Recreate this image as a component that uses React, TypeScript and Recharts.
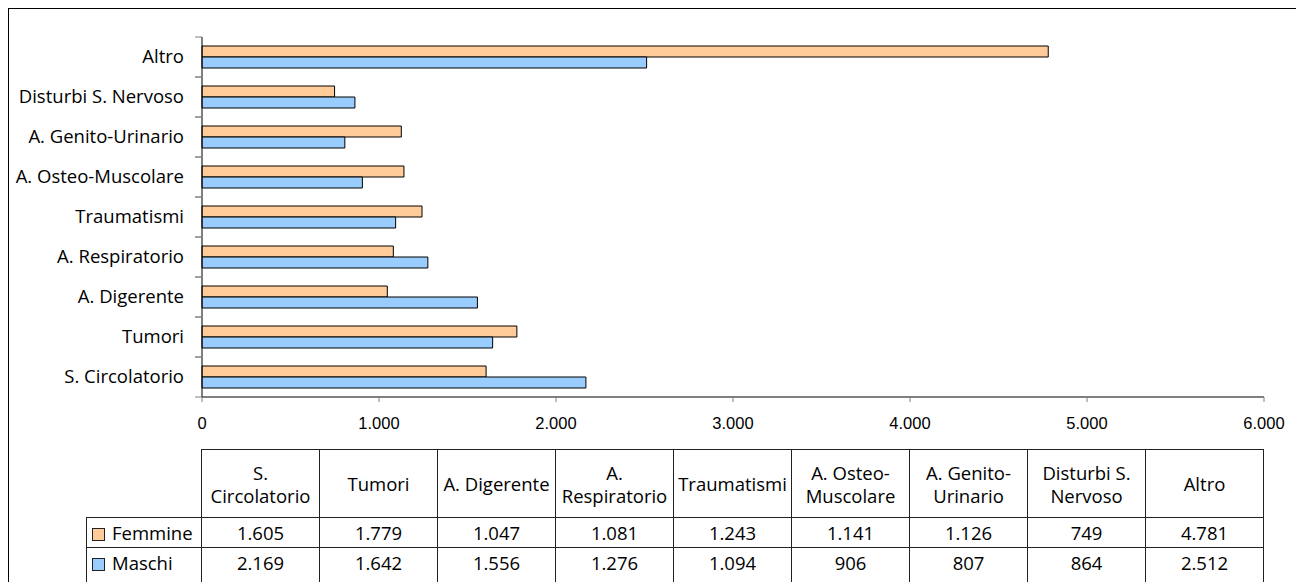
import React from "react";
import { BarChart, Bar, XAxis, YAxis } from "recharts";

const categories = [
  "S. Circolatorio",
  "Tumori",
  "A. Digerente",
  "A. Respiratorio",
  "Traumatismi",
  "A. Osteo-Muscolare",
  "A. Genito-Urinario",
  "Disturbi S. Nervoso",
  "Altro",
];

// header labels in the data table, wrapped like the original
const tableHeaders = [
  "S.\nCircolatorio",
  "Tumori",
  "A. Digerente",
  "A.\nRespiratorio",
  "Traumatismi",
  "A. Osteo-\nMuscolare",
  "A. Genito-\nUrinario",
  "Disturbi S.\nNervoso",
  "Altro",
];

const femmine = [1605, 1779, 1047, 1081, 1243, 1141, 1126, 749, 4781];
const maschi = [2169, 1642, 1556, 1276, 1094, 906, 807, 864, 2512];

const xTicks = [0, 1000, 2000, 3000, 4000, 5000, 6000];

const FEMMINE_COLOR = "#FFCC99";
const MASCHI_COLOR = "#99CCFF";

const data = categories.map((name, i) => ({
  name,
  femmine: femmine[i],
  maschi: maschi[i],
}));

const fmt = (v: number) => String(v).replace(/\B(?=(\d{3})+(?!\d))/g, ".");

function CategoryTick(props: any) {
  const { x, y, payload } = props;
  const half = typeof payload?.offset === "number" && payload.offset > 0 ? payload.offset : 20;
  return (
    <g>
      <line x1={x - 7} x2={x} y1={y - half} y2={y - half} stroke="#808080" />
      <line x1={x - 7} x2={x} y1={y + half} y2={y + half} stroke="#808080" />
      <text
        x={x - 18}
        y={y}
        dy="0.3em"
        textAnchor="end"
        fill="#000"
        fontFamily="'Open Sans', sans-serif"
        fontSize={18.5}
      >
        {payload.value}
      </text>
    </g>
  );
}

const cell: React.CSSProperties = {
  border: "1px solid #222",
  textAlign: "center",
  verticalAlign: "middle",
  padding: 0,
};

// last row runs past the bottom of the frame, like the original
const lastCell: React.CSSProperties = {
  ...cell,
  verticalAlign: "top",
  lineHeight: "29px",
  borderBottom: "none",
};

export default function App() {
  const swatch = (color: string) => (
    <span
      style={{
        display: "inline-block",
        width: 11,
        height: 11,
        background: color,
        border: "1px solid #222",
        marginRight: 7,
        verticalAlign: "-1px",
      }}
    />
  );

  return (
    <div
      style={{
        position: "relative",
        width: 1296,
        height: 574,
        boxSizing: "border-box",
        borderLeft: "1px solid #000",
        borderTop: "1px solid #000",
        overflow: "hidden",
        background: "#fff",
      }}
    >
      <BarChart
        width={1295}
        height={440}
        data={data}
        layout="vertical"
        margin={{ top: 28, right: 40, bottom: 0, left: 0 }}
        barSize={11}
        barGap={0}
      >
        <XAxis
          type="number"
          domain={[0, 6000]}
          ticks={xTicks}
          interval={0}
          tickFormatter={fmt}
          height={52}
          tickSize={5}
          tickMargin={15}
          axisLine={{ stroke: "#000" }}
          tickLine={{ stroke: "#808080" }}
          tick={{ fill: "#000", fontSize: 16.5, fontFamily: "'Liberation Sans', Arial, sans-serif" }}
        />
        <YAxis
          type="category"
          dataKey="name"
          reversed
          width={193}
          interval={0}
          tickSize={0}
          tickMargin={0}
          tickLine={false}
          axisLine={{ stroke: "#000" }}
          tick={<CategoryTick />}
        />
        <Bar dataKey="femmine" fill={FEMMINE_COLOR} stroke="#000" strokeWidth={1} isAnimationActive={false} />
        <Bar dataKey="maschi" fill={MASCHI_COLOR} stroke="#000" strokeWidth={1} isAnimationActive={false} />
      </BarChart>

      <table
        style={{
          position: "absolute",
          left: 77,
          top: 440,
          width: 1178,
          tableLayout: "fixed",
          borderCollapse: "collapse",
          fontFamily: "'Open Sans', sans-serif",
          fontSize: 18.5,
          color: "#000",
        }}
      >
        <colgroup>
          <col style={{ width: 115 }} />
          {categories.map((c) => (
            <col key={c} />
          ))}
        </colgroup>
        <tbody>
          <tr style={{ height: 68 }}>
            <td style={{ padding: 0 }} />
            {tableHeaders.map((h) => (
              <td key={h} style={{ ...cell, whiteSpace: "pre-line", lineHeight: "23px" }}>
                {h}
              </td>
            ))}
          </tr>
          <tr style={{ height: 30 }}>
            <td style={{ ...cell, textAlign: "left", paddingLeft: 5, whiteSpace: "nowrap", lineHeight: "28px" }}>
              {swatch(FEMMINE_COLOR)}Femmine
            </td>
            {femmine.map((v, i) => (
              <td key={i} style={{ ...cell, lineHeight: "28px" }}>
                {fmt(v)}
              </td>
            ))}
          </tr>
          <tr style={{ height: 45 }}>
            <td style={{ ...lastCell, textAlign: "left", paddingLeft: 5, whiteSpace: "nowrap" }}>
              {swatch(MASCHI_COLOR)}Maschi
            </td>
            {maschi.map((v, i) => (
              <td key={i} style={lastCell}>
                {fmt(v)}
              </td>
            ))}
          </tr>
        </tbody>
      </table>
    </div>
  );
}
